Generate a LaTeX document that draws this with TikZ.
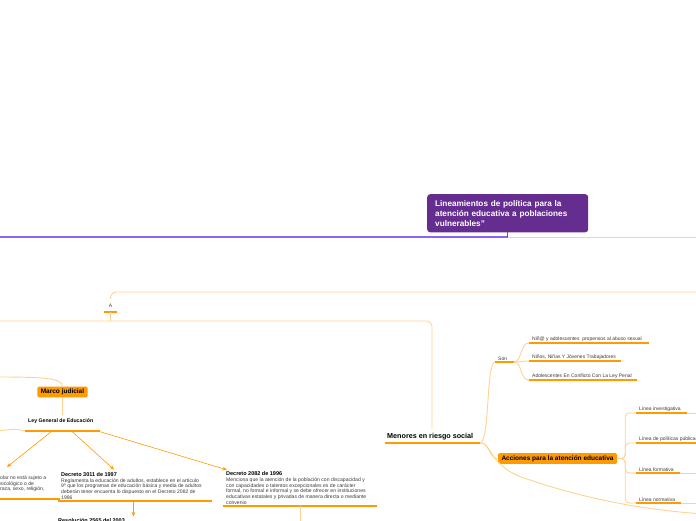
\documentclass[tikz,border=0pt]{standalone}
\usepackage{fontspec}
\setmainfont{Liberation Sans}
\usepackage{xcolor}
\definecolor{cPurple}{HTML}{662D91}
\definecolor{cViolet}{HTML}{8E63F0}
\definecolor{cOrange}{HTML}{FF9A00}
\definecolor{cLight}{HTML}{FFD38F}
\definecolor{cText}{HTML}{3A3A3A}
\usetikzlibrary{positioning,arrows.meta,calc}
\tikzset{
  node-topic/.style={fill=cPurple,rounded corners=3pt,text=white,align=left,
    font=\fontsize{8.2}{10}\selectfont\bfseries,inner xsep=8pt,inner ysep=6pt},
  node-tag/.style={fill=cOrange,rounded corners=2pt,text=black,
    font=\fontsize{6.5}{7.5}\selectfont\bfseries,inner xsep=3.5pt,inner ysep=2.4pt},
  node-item/.style={anchor=south west,inner xsep=3pt,inner ysep=1.6pt,align=left,
    text=cText,font=\fontsize{5}{6}\selectfont},
  node-note/.style={node-item,font=\fontsize{5.1}{5.7}\selectfont},
  node-head/.style={node-item,text=black,font=\fontsize{5.5}{6}\selectfont\bfseries},
  bar/.style={draw=cOrange,line width=2pt},
  link/.style={draw=cLight,line width=0.9pt},
  arrow/.style={-{Stealth[length=1.6mm,width=1.3mm]},draw=cOrange,line width=0.6pt},
}

\begin{document}
\begin{tikzpicture}[x=1pt,y=-1pt]
  \useasboundingbox (0,0) rectangle (696,520);
  \clip (0,0) rectangle (696,520);

  % tema central
  \node[node-topic,text width=145pt,anchor=north west] (titulo) at (427,194)
    {Lineamientos de política para la\\ atención educativa a poblaciones\\ vulnerables”};
  \coordinate (eje) at (508,237);
  \draw[draw=cViolet,line width=1.3pt] (-5,237) -- (eje);
  \draw[link] (eje) -- (705,237);
  \draw[draw=cPurple!60!gray,line width=0.6pt] (titulo.south) -- (titulo.south |- eje);

  % rama A
  \node[node-item,anchor=south,inner xsep=0pt,inner ysep=4.5pt] (a) at (110.5,312) {A};
  \draw[bar] (104,312) -- (117,312);
  \draw[link,rounded corners=6pt] (705,292) -- (110.5,292) -- (a.north);
  \coordinate (hub) at (110.5,321);
  \draw[link] (110.5,312) -- (hub);
  \draw[link,rounded corners=5pt] (-5,321) -- (hub) -| (432,429);

  % menores en riesgo social
  \node[node-item,text=black,font=\fontsize{7.2}{8}\selectfont\bfseries,inner xsep=2pt,inner ysep=2.5pt] (menores)
    at (385,443) {Menores en riesgo social};
  \draw[bar] (menores.south west) -- ++(95,0) coordinate (menores-e);
  \node[node-item] (son) at (495,362) {Son};
  \draw[bar] (son.south west) -- ++(19,0) coordinate (son-e);
  \node[node-tag] (acciones) at (557.5,458.5) {Acciones para la atención educativa};

  \draw[link] (menores-e) .. controls (490,442) and (486,362) .. (son.south west);
  \draw[link] (menores-e) .. controls (490,442) and (488,458) .. (acciones.west);
  \coordinate (borde) at (705,514);
  \draw[link] (menores-e) .. controls (492,442) and (488,468) .. (530,480)
    .. controls (580,497) and (640,510) .. (borde);

  \foreach \name/\x/\y/\len/\txt in {
    nino1/529/343/120/{Niñ@ y adolescentes\ \ propensos al abuso sexual},
    nino2/529/361/92/{Niños, Niñas Y Jóvenes Trabajadores},
    nino3/529/380/108/{Adolescentes En Conflicto Con La Ley Penal},
    lin1/636/413/51/{Línea investigativa},
    lin2/636/443/70/{Línea de políticas públicas},
    lin3/636/473/44/{Línea formativa},
    lin4/636/503/45/{Línea normativa}}{
    \node[node-item] (\name) at (\x,\y) {\txt};
    \draw[bar] (\name.south west) -- ++(\len,0) coordinate (\name-e);
  }
  \foreach \n in {nino1,nino2,nino3}
    \draw[link] (son-e) .. controls ($(son-e)+(8,0)$) and ($(\n.south west)+(-9,0)$) .. (\n.south west);
  \foreach \n in {lin1,lin2,lin3,lin4}
    \draw[link,rounded corners=4pt] (acciones.east) -- ++(8,0) |- (\n.south west);
  \foreach \n in {lin1,lin3,lin4}
    \draw[link] (\n-e) -- ++(30,0);

  % marco judicial
  \node[node-tag] (marco) at (62.5,392) {Marco judicial};
  \draw[link] (-5,377) .. controls (45,377) and (62,378) .. (marco.north);
  \node[node-head,inner ysep=7pt,font=\fontsize{5.2}{6}\selectfont\bfseries] (ley)
    at (25,431) {Ley General de Educación};
  \draw[bar] (ley.south west) -- ++(75,0) coordinate (ley-e);
  \draw[link] (marco.south) -- ($(marco.south |- ley.north)+(0,3)$);
  \draw[link] (-5,431) .. controls (8,430) and (16,428) .. (ley.south west);
  \path (ley.south west) -- (ley-e) coordinate[pos=0.36] (ley-1)
    coordinate[pos=0.62] (ley-2) coordinate[pos=0.97] (ley-3);

  \node[node-note,anchor=north west,inner xsep=0pt] (izq) at (0,474)
    {olar no está sujeto a\\ sicológico o de\\ raza, sexo, religión,};
  \draw[bar] (-5,499) -- (60,499);
  \coordinate (izq-top) at (7,467);

  \node[node-note] (dec3011) at (58,501)
    {{\color{black}\bfseries\fontsize{5.5}{5.7}\selectfont Decreto 3011 de 1997}\\
     Reglamenta la educación de adultos, establece en el artículo\\
     9º que los programas de educación básica y media de adultos\\
     deberán tener encuenta lo dispuesto en el Decreto 2082 de\\
     1996};
  \draw[bar] (dec3011.south west) -- ++(154,0) coordinate (dec3011-e);

  \node[node-note] (dec2082) at (223,506)
    {{\color{black}\bfseries\fontsize{5.5}{5.7}\selectfont Decreto 2082 de 1996}\\
     Menciona que la atención de la población con discapacidad y\\
     con capacidades o talentos excepcionales es de carácter\\
     formal, no formal e informal y se debe ofrecer en instituciones\\
     educativas estatales y privadas de manera directa o mediante\\
     convenio};
  \draw[bar] (dec2082.south west) -- ++(154,0) coordinate (dec2082-e);

  \draw[arrow] (ley-1) -- (izq-top);
  \draw[arrow] (ley-2) -- ($(dec3011.north west)+(56,-1)$);
  \draw[arrow] (ley-3) -- ($(dec2082.north west)+(4,0)$);

  \node[node-head,anchor=north west] (res) at (55,516.5) {Resolución 2565 del 2003};
  \coordinate (dec3011-m) at ($(dec3011.south west)!0.49!(dec3011-e)$);
  \draw[arrow] (dec3011-m) -- (dec3011-m |- res.north);
  \draw[link] ($(dec2082.south west)!0.5!(dec2082-e)$) -- ++(0,25);
\end{tikzpicture}
\end{document}
